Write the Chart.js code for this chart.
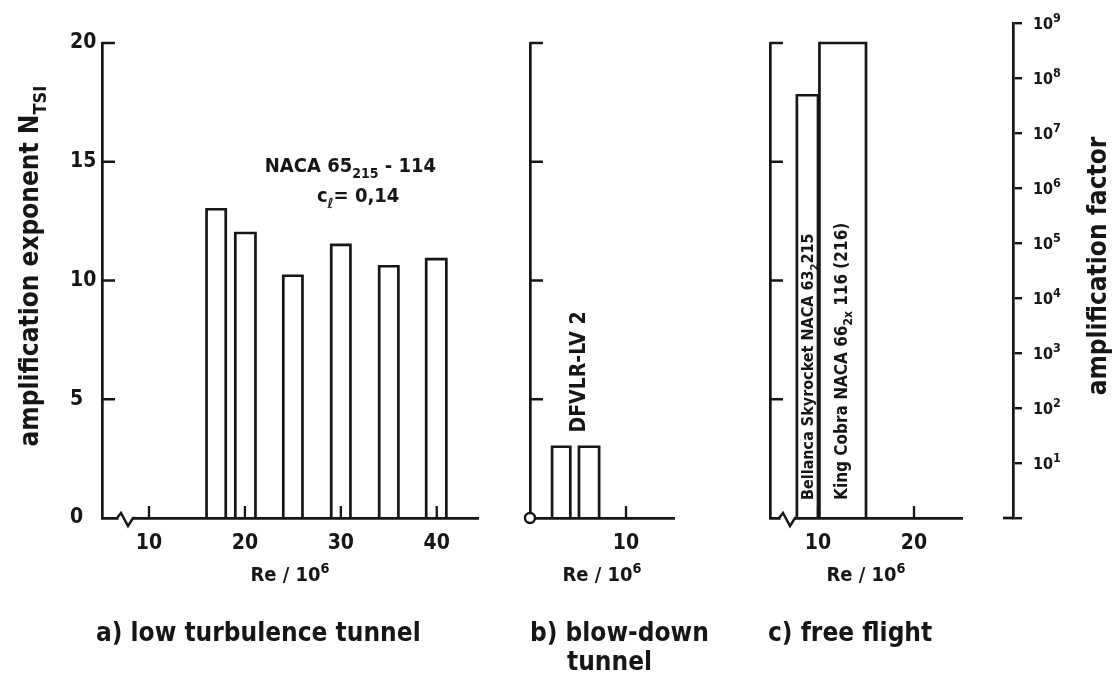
<!DOCTYPE html>
<html><head><meta charset="utf-8">
<script src="https://cdn.jsdelivr.net/npm/chart.js@4.4.1/dist/chart.umd.min.js"></script>
<style>
html,body{margin:0;padding:0;background:#fff;}
#wrap{position:relative;width:1113px;height:675px;background:#fff;overflow:hidden;}
#wrap canvas{position:absolute;top:0;}
</style></head><body>
<div id="wrap">
<canvas id="cA" width="490" height="675" style="left:0px;width:490px;height:675px"></canvas>
<canvas id="cB" width="250" height="675" style="left:490px;width:250px;height:675px"></canvas>
<canvas id="cC" width="250" height="675" style="left:740px;width:250px;height:675px"></canvas>
<canvas id="cD" width="123" height="675" style="left:990px;width:123px;height:675px"></canvas>
</div>
<script>
// ---- data (Re in millions, N_TSI amplification exponent) ----
const reStartA = [16.0, 19.0, 24.0, 29.0, 34.0, 38.9];
const reEndA   = [18.0, 21.1, 26.0, 31.0, 36.0, 41.0];
const nTsiA    = [13.0, 12.0, 10.2, 11.5, 10.6, 10.9];

const reStartB = [2.3, 5.1];
const reEndB   = [4.2, 7.2];
const nTsiB    = [3.0, 3.0];

const reStartC = [7.8, 10.15];
const reEndC   = [10.0, 15.0];
const nTsiC    = [17.8, 20.0];

const xTicksA = [10, 20, 30, 40];
const xTickLabelsA = ['10', '20', '30', '40'];
const xTicksB = [10];
const xTickLabelsB = ['10'];
const xTicksC = [10, 20];
const xTickLabelsC = ['10', '20'];
const yTicksN = [0, 5, 10, 15, 20];
const yTickLabelsN = ['0', '5', '10', '15', '20'];
const factorExponents = [0, 1, 2, 3, 4, 5, 6, 7, 8, 9];
const factorBase = '10';

// ---- styling ----
const INK = '#161616';
const COND = '"DejaVu Sans Condensed", "DejaVu Sans", sans-serif';

function rectPoints(starts, ends, heights) {
  const pts = [];
  starts.forEach((s, i) => {
    pts.push({x: s, y: 0}, {x: s, y: heights[i]}, {x: ends[i], y: heights[i]}, {x: ends[i], y: 0}, {x: ends[i], y: null});
  });
  return pts;
}

function rich(ctx, parts, x, y, o) {
  const size = o.size, fam = o.family || COND, wt = o.weight || 'bold';
  ctx.save();
  ctx.translate(x, y);
  if (o.rot) ctx.rotate(o.rot);
  ctx.fillStyle = INK;
  ctx.textAlign = 'left';
  ctx.textBaseline = 'alphabetic';
  if (o.spacing) ctx.letterSpacing = o.spacing;
  const segs = parts.map(p => {
    const s = (p.sub || p.sup) ? size * (o.small || 0.7) : size;
    ctx.font = wt + ' ' + s + 'px ' + fam;
    return {t: p.t, s: s, sub: p.sub, sup: p.sup, w: ctx.measureText(p.t).width};
  });
  const total = segs.reduce((a, b) => a + b.w, 0);
  let cx = o.align === 'center' ? -total / 2 : (o.align === 'right' ? -total : 0);
  segs.forEach(sg => {
    ctx.font = wt + ' ' + sg.s + 'px ' + fam;
    ctx.fillText(sg.t, cx, sg.sub ? size * 0.3 : (sg.sup ? -size * 0.42 : 0));
    cx += sg.w;
  });
  ctx.restore();
}

function inwardTicks(chart, xVals, yVals) {
  const {ctx, chartArea} = chart;
  const xs = chart.scales.x, ys = chart.scales.y;
  ctx.save();
  ctx.strokeStyle = INK; ctx.lineWidth = 2.3; ctx.lineCap = 'butt';
  ctx.beginPath();
  yVals.forEach(v => { if (v === 0) return; const p = ys.getPixelForValue(v); ctx.moveTo(chartArea.left, p); ctx.lineTo(chartArea.left + 13, p); });
  xVals.forEach(v => { const p = xs.getPixelForValue(v); ctx.moveTo(p, chartArea.bottom); ctx.lineTo(p, chartArea.bottom - 12); });
  ctx.stroke();
  ctx.restore();
}

function axisBreak(chart, off) {
  const {ctx, chartArea} = chart;
  const x0 = chartArea.left + off, b = chartArea.bottom;
  ctx.save();
  ctx.fillStyle = '#fff';
  ctx.fillRect(x0 + 0.5, b - 4, 14, 8);
  ctx.strokeStyle = INK; ctx.lineWidth = 2.4; ctx.lineJoin = 'miter';
  ctx.beginPath();
  ctx.moveTo(x0 - 1, b); ctx.lineTo(x0 + 3, b - 5); ctx.lineTo(x0 + 10, b + 8); ctx.lineTo(x0 + 15, b); ctx.lineTo(x0 + 17, b);
  ctx.stroke();
  ctx.restore();
}

function reTitle(chart) {
  const ca = chart.chartArea;
  rich(chart.ctx, [{t: 'Re / 10'}, {t: '6', sup: 1}], (ca.left + ca.right) / 2, 581, {size: 20, align: 'center', small: 0.72});
}

function panel(id, o) {
  return new Chart(document.getElementById(id), {
    type: 'scatter',
    data: {datasets: [{
      data: rectPoints(o.s, o.e, o.h), showLine: true, borderColor: INK, borderWidth: 2.7,
      pointRadius: 0, pointHoverRadius: 0, tension: 0, spanGaps: false, fill: false,
      borderJoinStyle: 'miter', clip: false
    }]},
    options: {
      responsive: false, animation: false, devicePixelRatio: 1, events: [],
      layout: {autoPadding: false, padding: {left: o.padL, right: o.padR, top: 43, bottom: 0}},
      plugins: {legend: {display: false}, tooltip: {enabled: false}},
      scales: {
        x: {
          type: 'linear', position: 'bottom', min: o.xmin, max: o.xmax,
          afterBuildTicks: s => { s.ticks = o.xt.map(v => ({value: v})); },
          afterFit: s => { s.height = 157; },
          grid: {display: false, drawTicks: false},
          border: {display: true, color: INK, width: 2.7},
          ticks: {display: true, color: INK, font: {family: COND, size: 21, weight: 'bold'}, padding: 13, maxRotation: 0, autoSkip: false,
                  callback: (v, i) => o.xl[i]}
        },
        y: {
          type: 'linear', position: 'left', min: 0, max: 20,
          afterBuildTicks: s => { s.ticks = yTicksN.map(v => ({value: v})); },
          afterFit: s => { s.width = o.yW; },
          grid: {display: false, drawTicks: false},
          border: {display: true, color: INK, width: 2.7},
          ticks: {display: o.yLabels, color: INK, font: {family: COND, size: 21, weight: 'bold'}, crossAlign: 'far', padding: 0,
                  callback: (v, i) => yTickLabelsN[i]}
        }
      }
    },
    plugins: [{id: 'decor' + id, afterDraw: o.draw}]
  });
}

// a) low turbulence tunnel
panel('cA', {
  s: reStartA, e: reEndA, h: nTsiA, xmin: 5.1, xmax: 44.3, xt: xTicksA, xl: xTickLabelsA,
  padL: 70, padR: 12, yW: 32, yLabels: true,
  draw(chart) {
    inwardTicks(chart, xTicksA, yTicksN);
    axisBreak(chart, 16);
    reTitle(chart);
    const ctx = chart.ctx, xs = chart.scales.x, ys = chart.scales.y;
    rich(ctx, [{t: 'NACA 65'}, {t: '215', sub: 1}, {t: ' - 114'}], xs.getPixelForValue(31.0), ys.getPixelForValue(14.55), {size: 20, align: 'center'});
    rich(ctx, [{t: 'c'}, {t: 'ℓ', sub: 1}, {t: '= 0,14'}], xs.getPixelForValue(31.8), ys.getPixelForValue(13.3), {size: 20, align: 'center'});
    rich(ctx, [{t: 'amplification exponent N'}, {t: 'TSI', sub: 1}], 38, 266, {size: 26, align: 'center', rot: -Math.PI / 2});
    rich(ctx, [{t: 'a) low turbulence tunnel'}], 96, 641, {size: 26});
  }
});

// b) blow-down tunnel
panel('cB', {
  s: reStartB, e: reEndB, h: nTsiB, xmin: 0, xmax: 15, xt: xTicksB, xl: xTickLabelsB,
  padL: 0, padR: 66, yW: 40, yLabels: false,
  draw(chart) {
    inwardTicks(chart, xTicksB, yTicksN);
    reTitle(chart);
    const ctx = chart.ctx, xs = chart.scales.x, ys = chart.scales.y;
    ctx.save();
    ctx.beginPath(); ctx.arc(chart.chartArea.left, chart.chartArea.bottom, 5, 0, Math.PI * 2);
    ctx.fillStyle = '#fff'; ctx.fill(); ctx.strokeStyle = INK; ctx.lineWidth = 2.4; ctx.stroke();
    ctx.restore();
    rich(ctx, [{t: 'DFVLR-LV 2'}], xs.getPixelForValue(5.7), ys.getPixelForValue(3.6), {size: 21, rot: -Math.PI / 2});
    rich(ctx, [{t: 'b) blow-down'}], 40, 641, {size: 26});
    rich(ctx, [{t: 'tunnel'}], 77, 670, {size: 26});
  }
});

// c) free flight
panel('cC', {
  s: reStartC, e: reEndC, h: nTsiC, xmin: 5, xmax: 25, xt: xTicksC, xl: xTickLabelsC,
  padL: 0, padR: 28, yW: 30, yLabels: false,
  draw(chart) {
    inwardTicks(chart, xTicksC, yTicksN);
    axisBreak(chart, 10);
    reTitle(chart);
    const ctx = chart.ctx, xs = chart.scales.x, ys = chart.scales.y;
    rich(ctx, [{t: 'Bellanca Skyrocket NACA 63'}, {t: '2', sub: 1}, {t: '215'}], xs.getPixelForValue(9.5), ys.getPixelForValue(0.76), {size: 16, rot: -Math.PI / 2});
    rich(ctx, [{t: 'King Cobra NACA 66'}, {t: '2x', sub: 1}, {t: ' 116 (216)'}], xs.getPixelForValue(13.0), ys.getPixelForValue(0.76), {size: 17, rot: -Math.PI / 2});
    rich(ctx, [{t: 'c) free flight'}], 28, 641, {size: 26});
  }
});

// amplification factor axis (e^N, log scale)
new Chart(document.getElementById('cD'), {
  type: 'scatter',
  data: {datasets: [{data: []}]},
  options: {
    responsive: false, animation: false, devicePixelRatio: 1, events: [],
    layout: {autoPadding: false, padding: {left: 0, right: 0, top: 23, bottom: 157}},
    plugins: {legend: {display: false}, tooltip: {enabled: false}},
    scales: {
      x: {display: false, min: 0, max: 1},
      y: {
        type: 'logarithmic', position: 'right', min: 1, max: 1e9,
        afterBuildTicks: s => { s.ticks = factorExponents.map(e => ({value: Math.pow(10, e)})); },
        afterFit: s => { s.width = 100; },
        grid: {display: true, drawOnChartArea: false, drawTicks: true, tickLength: 9, lineWidth: 2.4, color: INK},
        border: {display: true, color: INK, width: 2.7},
        ticks: {display: false}
      }
    }
  },
  plugins: [{id: 'decorD', afterDraw(chart) {
    const ctx = chart.ctx, ca = chart.chartArea, ys = chart.scales.y;
    ctx.save(); ctx.strokeStyle = INK; ctx.lineWidth = 2.7;
    ctx.beginPath(); ctx.moveTo(ca.right - 10, ca.bottom); ctx.lineTo(ca.right, ca.bottom); ctx.stroke();
    ctx.restore();
    factorExponents.forEach(e => {
      if (e === 0) return;
      const p = ys.getPixelForValue(Math.pow(10, e));
      rich(ctx, [{t: factorBase}, {t: String(e), sup: 1}], ca.right + 20, p + 6, {size: 16, small: 0.78});
    });
    rich(ctx, [{t: 'amplification factor'}], 116, 266, {size: 26, align: 'center', rot: -Math.PI / 2});
  }}]
});
</script>
</body></html>
